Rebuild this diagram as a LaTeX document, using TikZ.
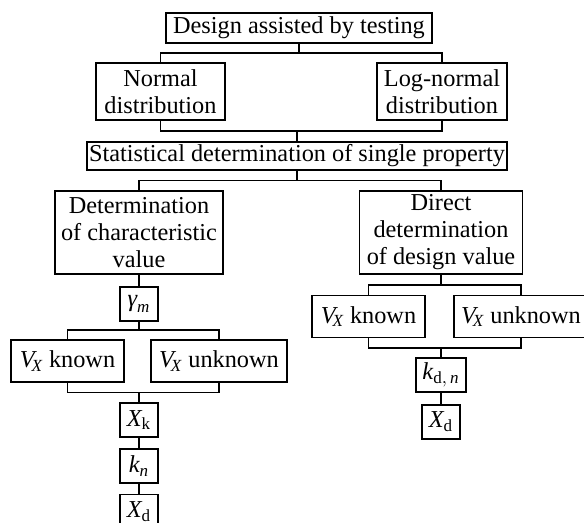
\documentclass[tikz,border=0pt]{standalone}
\usepackage{amsmath}
\usepackage{fontspec}
\setmainfont{Liberation Serif}
\usetikzlibrary{calc,positioning}

\newcommand\boxfs{\fontsize{12.15}{13.5}\selectfont}

\begin{document}
\begin{tikzpicture}[x=0.5pt, y=-0.5pt,
            node distance = 5pt and 5pt,
            every node/.style = {draw, line width=0.9pt, align=center, inner sep=1pt, font=\boxfs},
            small/.style = {minimum width=19pt, minimum height=17pt},
            vx/.style = {minimum height=21pt},
            bus/.style = {line width=0.9pt},
        ]
        \path[fill=white] (0,0) rectangle (584,523);
        \useasboundingbox (0,0) rectangle (584,523);

        % top part
        \node (top) [minimum width=133pt, minimum height=15pt] at (299,28) {Design assisted by testing};
        \node (norm) [minimum width=64.5pt, minimum height=28.5pt] at (160.5,91.5) {Normal\\distribution};
        \node (log) [minimum width=65pt, minimum height=28.5pt] at (442,91.5) {Log-normal\\distribution};
        \node (stat) [minimum width=210pt, minimum height=14pt] at (297,156) {Statistical determination of single property};

        % left branch
        \node (det) [minimum width=84pt, minimum height=41.5pt] at (139,232.5) {Determination\\of characteristic\\value};
        \node (gam) [small, below=5.5pt of det] {$\textit{γ}_{\textit{m}}$};
        \node (vkl) [vx, minimum width=56.5pt] at (67.5,361) {$\textit{V}_{\!\textit{X}}$ known};
        \node (vul) [vx, minimum width=68pt] at (219,361) {$\textit{V}_{\!\textit{X}}$ unknown};
        \node (xk) [small] at (139,420) {$\textit{X}_{\text{k}}$};
        \node (kn) [small, below=5pt of xk] {$\textit{k}_{\textit{n}}$};
        \node (xdl) [small, below=5pt of kn] {$\textit{X}_{\text{d}}$};

        % right branch
        \node (dir) [minimum width=81.5pt, minimum height=41.5pt] at (441,232.5) {Direct\\determination\\of design value};
        \node (vkr) [vx, minimum width=56.5pt] at (368.5,316.5) {$\textit{V}_{\!\textit{X}}$ known};
        \node (vur) [vx, minimum width=67pt] at (521,316.5) {$\textit{V}_{\!\textit{X}}$ unknown};
        \node (kdn) [small, minimum width=25pt] at (441,375) {$\textit{k}_{\text{d},\,\textit{n}}$};
        \node (xdr) [small, below=5.5pt of kdn] {$\textit{X}_{\text{d}}$};

        % splits
        \foreach \p/\a/\b in {top/norm/log, stat/det/dir, gam/vkl/vul, dir/vkr/vur}
            {
                \path ($(\p.south)!.5!(\a.north)$) coordinate (m);
                \draw[bus] (\p.south) -- (\p.south |- m) -| (\a.north);
                \draw[bus] (\p.south |- m) -| (\b.north);
            }

        % merges
        \foreach \a/\b/\c in {norm/log/stat, vkl/vul/xk, vkr/vur/kdn}
            {
                \path ($(\a.south)!.5!(\c.north)$) coordinate (m);
                \draw[bus] (\a.south) |- (\c.north |- m) -| (\b.south);
                \draw[bus] (\c.north |- m) -- (\c.north);
            }

        % straight links
        \foreach \a/\b in {det/gam, xk/kn, kn/xdl, kdn/xdr}
            {
                \draw[bus] (\a.south) -- (\b.north);
            }
    \end{tikzpicture}
\end{document}
